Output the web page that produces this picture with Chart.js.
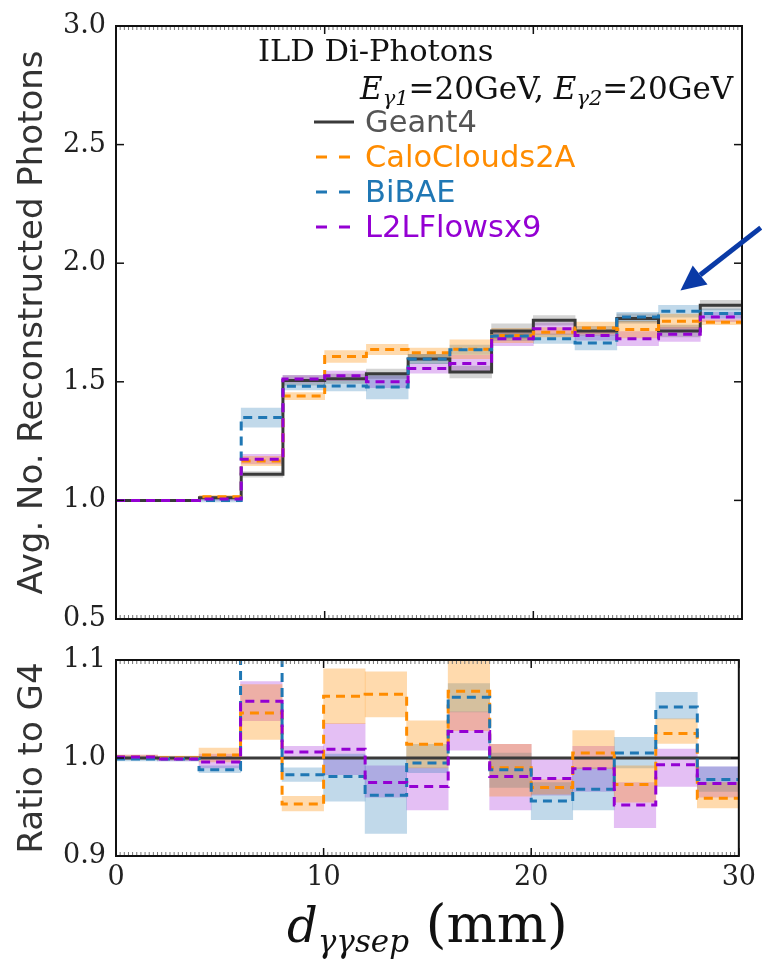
<!DOCTYPE html>
<html>
<head>
<meta charset="utf-8">
<script src="https://cdn.jsdelivr.net/npm/chart.js@4.4.1/dist/chart.umd.min.js"></script>
<style>
  body { margin: 0; background: #fff; }
  #wrap { position: relative; width: 762px; height: 959px; }
  .panel { position: absolute; left: 0; width: 762px; }
  #top { top: 0; height: 640px; }
  #bot { top: 640px; height: 319px; }
</style>
</head>
<body>
<div id="wrap">
  <div class="panel" id="top"><canvas id="chartTop"></canvas></div>
  <div class="panel" id="bot"><canvas id="chartRatio"></canvas></div>
</div>
<script>
// bins of d_sep in mm
const binEdges = [0, 2, 4, 6, 8, 10, 12, 14, 16, 18, 20, 22, 24, 26, 28, 30];
const xTicks = [0, 10, 20, 30];
const yTicksTop = [0.5, 1.0, 1.5, 2.0, 2.5, 3.0];
const yTicksRatio = [0.9, 1.0, 1.1];

// avg. number of reconstructed photons per bin
const geant4 = [1.000, 1.000, 1.011, 1.110, 1.506, 1.513, 1.534, 1.596, 1.541, 1.714, 1.759, 1.714, 1.767, 1.714, 1.823];
const caloClouds = [1.000, 1.000, 1.015, 1.166, 1.440, 1.607, 1.636, 1.622, 1.637, 1.695, 1.709, 1.727, 1.720, 1.755, 1.751];
const bibae = [1.000, 1.000, 1.000, 1.349, 1.481, 1.482, 1.478, 1.596, 1.635, 1.693, 1.682, 1.664, 1.773, 1.797, 1.788];
const l2lFlows = [1.000, 1.000, 1.006, 1.174, 1.512, 1.525, 1.500, 1.556, 1.577, 1.682, 1.724, 1.695, 1.682, 1.700, 1.773];

// half widths of the uncertainty bands (top panel)
const geant4Err = [0.002, 0.002, 0.005, 0.012, 0.02, 0.02, 0.02, 0.02, 0.025, 0.03, 0.02, 0.02, 0.02, 0.025, 0.02];
const caloCloudsErr = [0.002, 0.002, 0.006, 0.02, 0.015, 0.025, 0.022, 0.02, 0.04, 0.03, 0.02, 0.025, 0.035, 0.03, 0.01];
const bibaeErr = [0.002, 0.002, 0.006, 0.04, 0.015, 0.02, 0.05, 0.02, 0.02, 0.02, 0.02, 0.03, 0.02, 0.025, 0.02];
const l2lFlowsErr = [0.002, 0.002, 0.006, 0.02, 0.015, 0.02, 0.025, 0.02, 0.035, 0.03, 0.025, 0.02, 0.03, 0.03, 0.02];

// ratio to G4
const geant4Ratio = [1, 1, 1, 1, 1, 1, 1, 1, 1, 1, 1, 1, 1, 1, 1];
const caloCloudsRatio = [1.001, 1.000, 1.003, 1.046, 0.953, 1.063, 1.065, 1.014, 1.068, 0.990, 0.970, 1.005, 0.973, 1.025, 0.959];
const caloCloudsRatioLo = [0.999, 0.998, 0.996, 1.019, 0.946, 1.035, 1.042, 0.990, 1.028, 0.961, 0.963, 0.989, 0.955, 1.015, 0.949];
const caloCloudsRatioHi = [1.003, 1.002, 1.010, 1.075, 0.961, 1.091, 1.088, 1.038, 1.110, 1.014, 0.978, 1.028, 0.992, 1.040, 0.975];
const bibaeRatio = [0.999, 0.999, 0.988, 1.215, 0.983, 0.981, 0.962, 0.995, 1.062, 0.988, 0.956, 0.968, 1.005, 1.052, 0.978];
const bibaeRatioLo = [0.997, 0.997, 0.985, 1.190, 0.976, 0.956, 0.923, 0.985, 1.047, 0.970, 0.937, 0.947, 0.990, 1.040, 0.966];
const bibaeRatioHi = [1.001, 1.001, 0.992, 1.240, 0.990, 1.004, 1.000, 1.014, 1.076, 1.005, 0.975, 0.990, 1.021, 1.067, 0.991];
const l2lFlowsRatio = [1.001, 0.999, 0.996, 1.058, 1.006, 1.009, 0.975, 0.971, 1.027, 0.981, 0.979, 0.989, 0.952, 0.993, 0.974];
const l2lFlowsRatioLo = [0.999, 0.997, 0.990, 1.038, 0.999, 0.983, 0.960, 0.947, 1.008, 0.947, 0.962, 0.966, 0.929, 0.971, 0.960];
const l2lFlowsRatioHi = [1.003, 1.001, 1.004, 1.078, 1.012, 1.035, 0.992, 0.990, 1.047, 1.014, 0.999, 1.012, 0.975, 1.009, 0.991];

const colG4 = '#3a3a3a', colCC = '#ff8c00', colBi = '#1f77b4', colL2L = '#9400d3';

const binCenters = binEdges.slice(0, -1).map((e, i) => (e + binEdges[i + 1]) / 2);

function stepPoints(vals) {
    return binEdges.map((x, i) => ({ x: x, y: vals[Math.min(i, vals.length - 1)] }));
}
function stepSet(label, vals, color, dashed, order) {
    return {
        type: 'line', label: label, data: stepPoints(vals),
        borderColor: color, borderWidth: 3, borderDash: dashed ? [9, 6] : [],
        stepped: 'before', pointRadius: 0, fill: false, order: order
    };
}
function bandSet(label, lo, hi, color) {
    return {
        type: 'bar', label: label,
        data: binCenters.map((x, i) => ({ x: x, y: [lo[i], hi[i]] })),
        backgroundColor: color, borderWidth: 0, grouped: false,
        barPercentage: 1, categoryPercentage: 1, order: 10
    };
}
const minus = (v, e) => v.map((x, i) => x - e[i]);
const plus = (v, e) => v.map((x, i) => x + e[i]);

// frame with inward ticks, as in the matplotlib classic look
const framePlugin = {
    id: 'frame',
    afterDatasetsDraw(chart) {
        const { ctx, chartArea: a, scales } = chart;
        const seg = (x1, y1, x2, y2) => { ctx.beginPath(); ctx.moveTo(x1, y1); ctx.lineTo(x2, y2); ctx.stroke(); };
        ctx.save();
        ctx.strokeStyle = '#777';
        ctx.lineWidth = 1;
        for (let v = 0.2; v < 30; v += 0.2) {
            const x = scales.x.getPixelForValue(v);
            seg(x, a.top, x, a.top + 4);
            seg(x, a.bottom, x, a.bottom - 4);
        }
        ctx.strokeStyle = '#111';
        ctx.lineWidth = 1.5;
        scales.y.ticks.forEach(t => {
            const y = scales.y.getPixelForValue(t.value);
            seg(a.left, y, a.left + 8, y);
            seg(a.right, y, a.right - 8, y);
        });
        xTicks.forEach(v => {
            const x = scales.x.getPixelForValue(v);
            seg(x, a.top, x, a.top + 8);
            seg(x, a.bottom, x, a.bottom - 8);
        });
        ctx.lineWidth = 2;
        ctx.strokeRect(a.left, a.top, a.right - a.left, a.bottom - a.top);
        ctx.restore();
    }
};

const legendPlugin = {
    id: 'legendText',
    afterDraw(chart) {
        const { ctx, scales } = chart;
        ctx.save();
        ctx.textBaseline = 'alphabetic';
        ctx.textAlign = 'left';
        ctx.fillStyle = '#111';
        ctx.font = '30.5px "DejaVu Serif"';
        ctx.fillText('ILD Di-Photons', 258, 61);

        // E_gamma1=20GeV, E_gamma2=20GeV
        let x = 360;
        const base = 99;
        const piece = (txt, font, dy) => { ctx.font = font; ctx.fillText(txt, x, base + dy); x += ctx.measureText(txt).width; };
        piece('E', 'italic 31px "DejaVu Serif"', 0);
        piece('γ1', 'italic 21px "DejaVu Serif"', 6);
        piece('=20GeV, ', '31px "DejaVu Serif"', 0);
        piece('E', 'italic 31px "DejaVu Serif"', 0);
        piece('γ2', 'italic 21px "DejaVu Serif"', 6);
        piece('=20GeV', '31px "DejaVu Serif"', 0);

        const rows = [
            ['Geant4', colG4, '#555555', false],
            ['CaloClouds2A', colCC, colCC, true],
            ['BiBAE', colBi, colBi, true],
            ['L2LFlowsx9', colL2L, colL2L, true]
        ];
        rows.forEach((r, i) => {
            const y = 132 + i * 35;
            ctx.strokeStyle = r[1];
            ctx.lineWidth = 3;
            ctx.setLineDash(r[3] ? [11, 12] : []);
            ctx.beginPath();
            ctx.moveTo(r[3] ? 316 : 314, y - 10);
            ctx.lineTo(r[3] ? 350 : 354, y - 10);
            ctx.stroke();
            ctx.setLineDash([]);
            ctx.fillStyle = r[2];
            ctx.font = '30.5px "DejaVu Sans"';
            ctx.fillText(r[0], 365, y);
        });

        // annotation arrow pointing at the curve
        const x0 = scales.x.getPixelForValue(30.9), y0 = scales.y.getPixelForValue(2.15);
        const x1 = scales.x.getPixelForValue(27.05), y1 = scales.y.getPixelForValue(1.885);
        const ang = Math.atan2(y1 - y0, x1 - x0);
        const hl = 25, hw = 12;
        const bx = x1 - hl * Math.cos(ang), by = y1 - hl * Math.sin(ang);
        ctx.strokeStyle = '#0a3aa6';
        ctx.fillStyle = '#0a3aa6';
        ctx.lineWidth = 5;
        ctx.beginPath(); ctx.moveTo(x0, y0); ctx.lineTo(bx, by); ctx.stroke();
        ctx.beginPath();
        ctx.moveTo(x1, y1);
        ctx.lineTo(bx + hw * Math.sin(ang), by - hw * Math.cos(ang));
        ctx.lineTo(bx - hw * Math.sin(ang), by + hw * Math.cos(ang));
        ctx.closePath();
        ctx.fill();
        ctx.restore();
    }
};

const xTitlePlugin = {
    id: 'xTitle',
    afterDraw(chart) {
        const { ctx, chartArea: a } = chart;
        ctx.save();
        ctx.fillStyle = '#111';
        ctx.textBaseline = 'alphabetic';
        ctx.textAlign = 'left';
        const big = 'italic 48px "DejaVu Serif"', sub = 'italic 31px "DejaVu Serif"', up = '53px "DejaVu Serif"';
        ctx.font = big; const w1 = ctx.measureText('d').width;
        ctx.font = sub; const w2 = ctx.measureText('γγsep').width;
        ctx.font = up; const w3 = ctx.measureText(' (mm)').width;
        let x = (a.left + a.right) / 2 - (w1 + w2 + w3) / 2;
        const base = 302;
        ctx.font = big; ctx.fillText('d', x, base); x += w1;
        ctx.font = sub; ctx.fillText('γγsep', x, base + 10); x += w2;
        ctx.font = up; ctx.fillText(' (mm)', x, base);
        ctx.restore();
    }
};

const tickFont = { family: 'DejaVu Serif', size: 27 };
function yScale(ticks, title) {
    return {
        type: 'linear',
        min: ticks[0], max: ticks[ticks.length - 1],
        afterBuildTicks: s => { s.ticks = ticks.map(v => ({ value: v })); },
        afterFit: s => { s.width = 116; s.paddingTop = 0; s.paddingBottom = 0; },
        grid: { display: false, drawTicks: false },
        border: { display: false },
        ticks: { font: tickFont, color: '#222', padding: 10, callback: v => v.toFixed(1) },
        title: { display: true, text: title, color: '#333', font: { family: 'DejaVu Sans', size: 34 }, padding: { top: 13, bottom: 0 } }
    };
}

Chart.defaults.animation = false;

new Chart(document.getElementById('chartTop'), {
    type: 'bar',
    data: {
        datasets: [
            bandSet('G4 band', minus(geant4, geant4Err), plus(geant4, geant4Err), 'rgba(60,60,60,0.22)'),
            bandSet('CC band', minus(caloClouds, caloCloudsErr), plus(caloClouds, caloCloudsErr), 'rgba(255,140,0,0.32)'),
            bandSet('BiBAE band', minus(bibae, bibaeErr), plus(bibae, bibaeErr), 'rgba(31,119,180,0.28)'),
            bandSet('L2L band', minus(l2lFlows, l2lFlowsErr), plus(l2lFlows, l2lFlowsErr), 'rgba(148,0,211,0.25)'),
            stepSet('Geant4', geant4, colG4, false, 4),
            stepSet('CaloClouds2A', caloClouds, colCC, true, 3),
            stepSet('BiBAE', bibae, colBi, true, 2),
            stepSet('L2LFlowsx9', l2lFlows, colL2L, true, 1)
        ]
    },
    options: {
        responsive: true,
        maintainAspectRatio: false,
        layout: { padding: { top: 26, right: 20, bottom: 21, left: 0 } },
        plugins: { legend: { display: false }, tooltip: { enabled: false } },
        scales: {
            x: {
                type: 'linear', min: 0, max: 30, offset: false, display: false,
                afterBuildTicks: s => { s.ticks = xTicks.map(v => ({ value: v })); }
            },
            y: yScale(yTicksTop, 'Avg. No. Reconstructed Photons')
        }
    },
    plugins: [framePlugin, legendPlugin]
});

new Chart(document.getElementById('chartRatio'), {
    type: 'bar',
    data: {
        datasets: [
            bandSet('CC band', caloCloudsRatioLo, caloCloudsRatioHi, 'rgba(255,140,0,0.32)'),
            bandSet('BiBAE band', bibaeRatioLo, bibaeRatioHi, 'rgba(31,119,180,0.28)'),
            bandSet('L2L band', l2lFlowsRatioLo, l2lFlowsRatioHi, 'rgba(148,0,211,0.25)'),
            stepSet('Geant4', geant4Ratio, colG4, false, 4),
            stepSet('CaloClouds2A', caloCloudsRatio, colCC, true, 3),
            stepSet('BiBAE', bibaeRatio, colBi, true, 2),
            stepSet('L2LFlowsx9', l2lFlowsRatio, colL2L, true, 1)
        ]
    },
    options: {
        responsive: true,
        maintainAspectRatio: false,
        layout: { padding: { top: 20, right: 20, bottom: 0, left: 0 } },
        plugins: { legend: { display: false }, tooltip: { enabled: false } },
        scales: {
            x: {
                type: 'linear', min: 0, max: 30, offset: false,
                afterBuildTicks: s => { s.ticks = xTicks.map(v => ({ value: v })); },
                afterFit: s => { s.height = 103; },
                grid: { display: false, drawTicks: false },
                border: { display: false },
                ticks: { font: tickFont, color: '#222', padding: 6, maxRotation: 0 }
            },
            y: yScale(yTicksRatio, 'Ratio to G4')
        }
    },
    plugins: [framePlugin, xTitlePlugin]
});
</script>
</body>
</html>
